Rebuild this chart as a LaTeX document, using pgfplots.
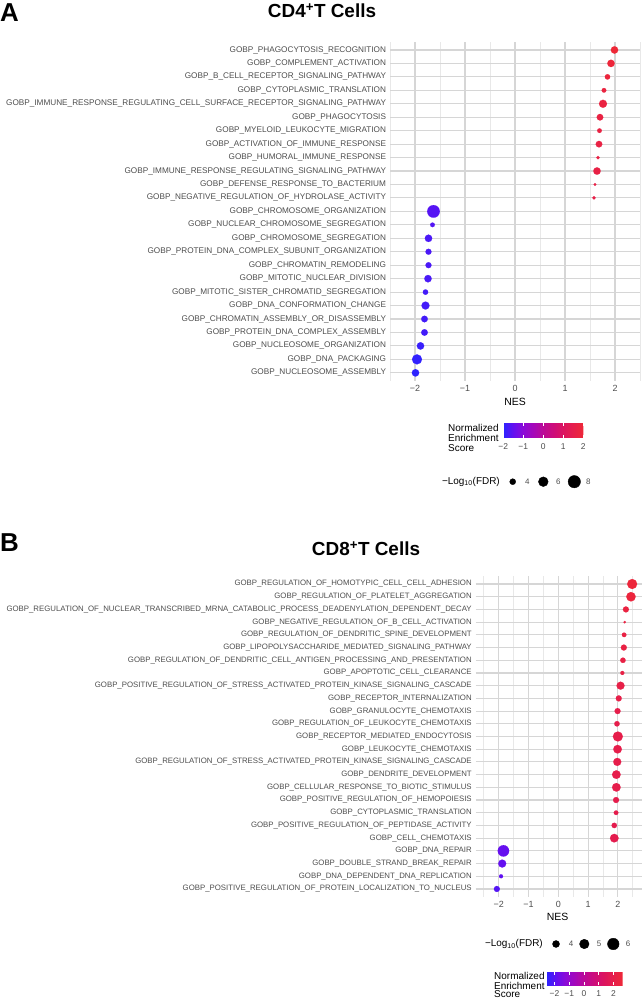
\documentclass[border=0pt]{standalone}
\usepackage{fontspec}
\setmainfont{Liberation Sans}
\usepackage{pgfplots}
\pgfplotsset{compat=1.18}
\usepackage{pgfplotstable}
\usetikzlibrary{calc}

\definecolor{txtgray}{RGB}{77,77,77}
\definecolor{gmaj}{RGB}{214,214,214}
\definecolor{gmin}{RGB}{232,232,232}

\pgfplotsset{
  colormap={nes}{rgb255=(45,35,255) rgb255=(100,15,240) rgb255=(140,10,215) rgb255=(165,8,185) rgb255=(188,10,150) rgb255=(205,12,122) rgb255=(220,20,95) rgb255=(230,30,75) rgb255=(238,40,55)},
  gsea/.style={
    scale only axis, clip=false,
    axis line style={draw=none}, tick style={draw=none},
    major tick length=0pt, minor tick length=0pt,
    xmajorgrids, xminorgrids, ymajorgrids,
    major grid style={gmaj, line width=1.1bp},
    minor grid style={gmin, line width=0.55bp},
    ymin=0.4, ymax=25.6, ytick={1,...,25},
    xtick={-2,-1,0,1,2}, xticklabels={−2,−1,0,1,2},
    minor xtick={-2.5,-1.5,-0.5,0.5,1.5,2.5},
    y tick label style={text=txtgray, inner sep=0pt, xshift=-3.8bp},
    x tick label style={font=\fontsize{9}{9}\selectfont, text=txtgray, inner sep=0pt, yshift=-4.5bp},
    colormap name=nes,
  },
  cbar/.style={
    scale only axis,
    axis line style={draw=none},
    xtick={-2,-1,0,1,2}, xticklabels={−2,−1,0,1,2},
    ytick=\empty,
    xtick style={draw=white, line width=0.6bp},
    major tick length=3bp, tick align=inside,
    x tick label style={font=\fontsize{8.5}{8.5}\selectfont, text=txtgray, inner sep=0pt, yshift=-5.2bp},
  },
}

% panel A: y position (25 = top row), NES, -log10(FDR)
\pgfplotstableread{
y nes lfdr
25 1.99 4.64
24 1.92 4.64
23 1.85 3.77
22 1.78 3.50
21 1.76 4.95
20 1.70 4.26
19 1.69 3.50
18 1.68 4.26
17 1.66 3.17
16 1.64 4.64
15 1.60 3.00
14 1.58 3.17
13 -1.63 8.18
12 -1.65 3.50
11 -1.73 4.64
10 -1.73 4.00
9 -1.73 4.00
8 -1.74 4.64
7 -1.79 3.77
6 -1.79 4.95
5 -1.81 4.26
4 -1.81 4.26
3 -1.89 4.64
2 -1.96 6.18
1 -1.99 4.64
}\tabA

% panel B
\pgfplotstableread{
y nes lfdr
25 2.48 5.19
24 2.44 4.92
23 2.27 3.69
22 2.23 3.00
21 2.21 3.34
20 2.20 3.69
19 2.17 3.53
18 2.15 3.22
17 2.09 4.35
16 2.03 3.69
15 1.99 3.69
14 1.97 3.53
13 2.00 5.19
12 1.99 4.58
11 1.98 4.35
10 1.95 4.58
9 1.95 4.58
8 1.94 3.69
7 1.94 3.34
6 1.88 3.53
5 1.88 4.58
4 -1.84 5.90
3 -1.88 4.35
2 -1.92 3.22
1 -2.06 3.69
}\tabB

\begin{document}
\begin{tikzpicture}
\path[use as bounding box] (0bp,0bp) rectangle (642bp,1000bp);

% ---------------- Panel A ----------------
\begin{axis}[gsea,
  at={(390bp,619.1bp)}, anchor=south west,
  width=250bp, height=339bp,
  xmin=-2.5, xmax=2.5,
  point meta min=-2, point meta max=2,
  y tick label style={font=\fontsize{8.24}{8.24}\selectfont},
  yticklabels={
GOBP\_NUCLEOSOME\_ASSEMBLY,
GOBP\_DNA\_PACKAGING,
GOBP\_NUCLEOSOME\_ORGANIZATION,
GOBP\_PROTEIN\_DNA\_COMPLEX\_ASSEMBLY,
GOBP\_CHROMATIN\_ASSEMBLY\_OR\_DISASSEMBLY,
GOBP\_DNA\_CONFORMATION\_CHANGE,
GOBP\_MITOTIC\_SISTER\_CHROMATID\_SEGREGATION,
GOBP\_MITOTIC\_NUCLEAR\_DIVISION,
GOBP\_CHROMATIN\_REMODELING,
GOBP\_PROTEIN\_DNA\_COMPLEX\_SUBUNIT\_ORGANIZATION,
GOBP\_CHROMOSOME\_SEGREGATION,
GOBP\_NUCLEAR\_CHROMOSOME\_SEGREGATION,
GOBP\_CHROMOSOME\_ORGANIZATION,
GOBP\_NEGATIVE\_REGULATION\_OF\_HYDROLASE\_ACTIVITY,
GOBP\_DEFENSE\_RESPONSE\_TO\_BACTERIUM,
GOBP\_IMMUNE\_RESPONSE\_REGULATING\_SIGNALING\_PATHWAY,
GOBP\_HUMORAL\_IMMUNE\_RESPONSE,
GOBP\_ACTIVATION\_OF\_IMMUNE\_RESPONSE,
GOBP\_MYELOID\_LEUKOCYTE\_MIGRATION,
GOBP\_PHAGOCYTOSIS,
GOBP\_IMMUNE\_RESPONSE\_REGULATING\_CELL\_SURFACE\_RECEPTOR\_SIGNALING\_PATHWAY,
GOBP\_CYTOPLASMIC\_TRANSLATION,
GOBP\_B\_CELL\_RECEPTOR\_SIGNALING\_PATHWAY,
GOBP\_COMPLEMENT\_ACTIVATION,
GOBP\_PHAGOCYTOSIS\_RECOGNITION},
  colorbar horizontal,
  colorbar style={cbar,
    at={($(parent axis.south west)+(113.3bp,-33.6bp)$)}, anchor=north west,
    width=80bp, height=15bp},
]
\addplot[scatter, only marks, mark=*, point meta=x,
  scatter/use mapped color={draw=mapped color, fill=mapped color},
  mark options={line width=0.1bp},
  visualization depends on={\thisrow{lfdr}\as\lfdr},
  scatter/@pre marker code/.append style={/tikz/mark size={sqrt(7.35*\lfdr-20.4)}}]
  table[x=nes, y=y] {\tabA};
\end{axis}

% ---------------- Panel B ----------------
\begin{axis}[gsea,
  at={(475.7bp,103.4bp)}, anchor=south west,
  width=166bp, height=320.2bp,
  xmin=-2.77, xmax=2.8,
  point meta min=-2.52, point meta max=2.62,
  y tick label style={font=\fontsize{7.85}{7.85}\selectfont},
  yticklabels={
GOBP\_POSITIVE\_REGULATION\_OF\_PROTEIN\_LOCALIZATION\_TO\_NUCLEUS,
GOBP\_DNA\_DEPENDENT\_DNA\_REPLICATION,
GOBP\_DOUBLE\_STRAND\_BREAK\_REPAIR,
GOBP\_DNA\_REPAIR,
GOBP\_CELL\_CHEMOTAXIS,
GOBP\_POSITIVE\_REGULATION\_OF\_PEPTIDASE\_ACTIVITY,
GOBP\_CYTOPLASMIC\_TRANSLATION,
GOBP\_POSITIVE\_REGULATION\_OF\_HEMOPOIESIS,
GOBP\_CELLULAR\_RESPONSE\_TO\_BIOTIC\_STIMULUS,
GOBP\_DENDRITE\_DEVELOPMENT,
GOBP\_REGULATION\_OF\_STRESS\_ACTIVATED\_PROTEIN\_KINASE\_SIGNALING\_CASCADE,
GOBP\_LEUKOCYTE\_CHEMOTAXIS,
GOBP\_RECEPTOR\_MEDIATED\_ENDOCYTOSIS,
GOBP\_REGULATION\_OF\_LEUKOCYTE\_CHEMOTAXIS,
GOBP\_GRANULOCYTE\_CHEMOTAXIS,
GOBP\_RECEPTOR\_INTERNALIZATION,
GOBP\_POSITIVE\_REGULATION\_OF\_STRESS\_ACTIVATED\_PROTEIN\_KINASE\_SIGNALING\_CASCADE,
GOBP\_APOPTOTIC\_CELL\_CLEARANCE,
GOBP\_REGULATION\_OF\_DENDRITIC\_CELL\_ANTIGEN\_PROCESSING\_AND\_PRESENTATION,
GOBP\_LIPOPOLYSACCHARIDE\_MEDIATED\_SIGNALING\_PATHWAY,
GOBP\_REGULATION\_OF\_DENDRITIC\_SPINE\_DEVELOPMENT,
GOBP\_NEGATIVE\_REGULATION\_OF\_B\_CELL\_ACTIVATION,
GOBP\_REGULATION\_OF\_NUCLEAR\_TRANSCRIBED\_MRNA\_CATABOLIC\_PROCESS\_DEADENYLATION\_DEPENDENT\_DECAY,
GOBP\_REGULATION\_OF\_PLATELET\_AGGREGATION,
GOBP\_REGULATION\_OF\_HOMOTYPIC\_CELL\_CELL\_ADHESION},
  colorbar horizontal,
  colorbar style={cbar,
    at={($(parent axis.south west)+(71bp,-66.9bp)$)}, anchor=north west,
    width=76bp, height=13.3bp},
]
\addplot[scatter, only marks, mark=*, point meta=x,
  scatter/use mapped color={draw=mapped color, fill=mapped color},
  mark options={line width=0.1bp},
  visualization depends on={\thisrow{lfdr}\as\lfdr},
  scatter/@pre marker code/.append style={/tikz/mark size={sqrt(10.65*\lfdr-30.3)}}]
  table[x=nes, y=y] {\tabB};
\end{axis}

% ---------------- size legends (overlay axis in page units) ----------------
\begin{axis}[at={(0bp,0bp)}, anchor=south west, scale only axis,
  width=642bp, height=1000bp, xmin=0, xmax=642, ymin=0, ymax=1000,
  hide axis, clip=false]
\addplot[only marks, mark=*, black, mark size={sqrt(7.35*4-20.4)}] coordinates {(512.7,518.3)};
\addplot[only marks, mark=*, black, mark size={sqrt(7.35*6-20.4)}] coordinates {(543.3,518.3)};
\addplot[only marks, mark=*, black, mark size={sqrt(7.35*8-20.4)}] coordinates {(574.3,518.3)};
\addplot[only marks, mark=*, black, mark size={sqrt(10.65*4-30.3)}] coordinates {(556,56)};
\addplot[only marks, mark=*, black, mark size={sqrt(10.65*5-30.3)}] coordinates {(584.3,56)};
\addplot[only marks, mark=*, black, mark size={sqrt(10.65*6-30.3)}] coordinates {(613.3,56)};
\end{axis}

% ---------------- texts ----------------
\node[font=\bfseries\fontsize{26}{26}\selectfont, anchor=west, inner sep=0pt] at (0bp,987.5bp) {A};
\node[font=\bfseries\fontsize{19}{19}\selectfont, inner sep=0pt] at (322bp,989bp) {CD4\textsuperscript{+}T Cells};
\node[font=\fontsize{10.5}{10.5}\selectfont, inner sep=0pt] at (515bp,598bp) {NES};

\node[font=\fontsize{10}{10}\selectfont, anchor=base west, inner sep=0pt] at (448bp,568.7bp) {Normalized};
\node[font=\fontsize{10}{10}\selectfont, anchor=base west, inner sep=0pt] at (448bp,558.1bp) {Enrichment};
\node[font=\fontsize{10}{10}\selectfont, anchor=base west, inner sep=0pt] at (448bp,548.1bp) {Score};

\node[font=\fontsize{10}{10}\selectfont, anchor=east, inner sep=0pt] at (500bp,518.3bp) {−Log\textsubscript{10}(FDR)};
\node[font=\fontsize{8}{8}\selectfont, text=txtgray, inner sep=0pt] at (527.3bp,518.3bp) {4};
\node[font=\fontsize{8}{8}\selectfont, text=txtgray, inner sep=0pt] at (558.3bp,518.3bp) {6};
\node[font=\fontsize{8}{8}\selectfont, text=txtgray, inner sep=0pt] at (588.3bp,518.3bp) {8};

\node[font=\bfseries\fontsize{26}{26}\selectfont, anchor=west, inner sep=0pt] at (0bp,457bp) {B};
\node[font=\bfseries\fontsize{19}{19}\selectfont, inner sep=0pt] at (366bp,451bp) {CD8\textsuperscript{+}T Cells};
\node[font=\fontsize{10.5}{10.5}\selectfont, inner sep=0pt] at (557.5bp,83.5bp) {NES};

\node[font=\fontsize{10}{10}\selectfont, anchor=east, inner sep=0pt] at (543bp,56bp) {−Log\textsubscript{10}(FDR)};
\node[font=\fontsize{8}{8}\selectfont, text=txtgray, inner sep=0pt] at (571bp,56bp) {4};
\node[font=\fontsize{8}{8}\selectfont, text=txtgray, inner sep=0pt] at (599bp,56bp) {5};
\node[font=\fontsize{8}{8}\selectfont, text=txtgray, inner sep=0pt] at (628bp,56bp) {6};

\node[font=\fontsize{10}{10}\selectfont, anchor=base west, inner sep=0pt] at (494bp,20.7bp) {Normalized};
\node[font=\fontsize{10}{10}\selectfont, anchor=base west, inner sep=0pt] at (494bp,10.7bp) {Enrichment};
\node[font=\fontsize{10}{10}\selectfont, anchor=base west, inner sep=0pt] at (494bp,2.1bp) {Score};
\end{tikzpicture}
\end{document}
